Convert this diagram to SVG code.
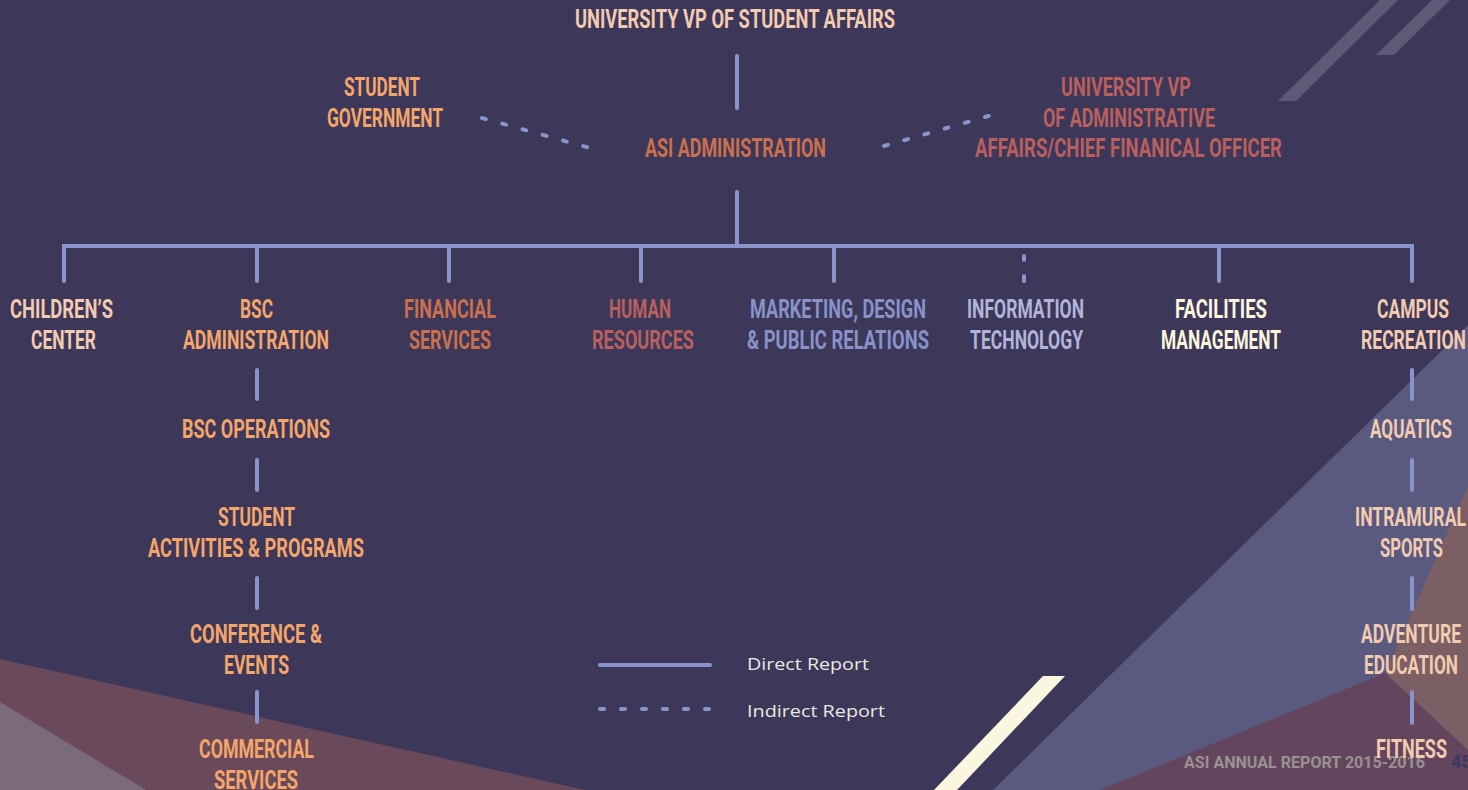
<svg xmlns="http://www.w3.org/2000/svg" width="1468" height="790" viewBox="0 0 1468 790">
<style>
.t{font-family:Roboto,"Liberation Sans",sans-serif;font-weight:700;font-size:25px;text-anchor:middle}
.peach{fill:#f2cbb0}.orange{fill:#f4a66a}.terra{fill:#c9704f}.rose{fill:#b9605f}.lav{fill:#8892c8}.lav2{fill:#b1b5d9}.cream{fill:#fbf6dd}
.c{fill:none;stroke:#8a94cc;stroke-width:4;stroke-linecap:round}
.d{stroke-dasharray:4 17}
.lg{font-family:"Open Sans","Noto Sans",sans-serif;font-size:16px;fill:#ece8e0}
</style>
<g id="background">
<rect width="1468" height="790" fill="#3d3759"/>
<polygon points="1380,0 1398,0 1296,101 1278,101" fill="#5e5977"/>
<polygon points="1432,0 1450,0 1394,55 1376,55" fill="#5e5977"/>
<polygon points="0,659 585,790 0,790" fill="#6a4a5a"/>
<polygon points="0,702 146,790 0,790" fill="#7b6a7c"/>
<polygon points="1468,325 1468,790 993,790" fill="#5a5a80"/>
<polygon points="1468,486 1385,673 1468,750" fill="#7b5f64"/>
<polygon points="1100,790 1385,673 1468,750 1468,790" fill="#63455e"/>
<polygon points="1043,676 1065,676 957,790 934,790" fill="#faf6e0"/>
<text x="1184" y="768" font-family="Roboto,'Liberation Sans',sans-serif" font-weight="700" font-size="17" fill="#9b9191" textLength="241" lengthAdjust="spacingAndGlyphs">ASI ANNUAL REPORT 2015-2016</text>
<text x="1451" y="768" font-family="Roboto,'Liberation Sans',sans-serif" font-weight="700" font-size="18" fill="#3a3865">45</text>
</g>
<g id="connectors">
<line class="c" x1="737" y1="56" x2="737" y2="108"/>
<line class="c d" x1="482" y1="118" x2="590" y2="148"/>
<line class="c d" x1="884" y1="146" x2="992" y2="115"/>
<line class="c" x1="737" y1="192" x2="737" y2="244"/>
<path class="c" d="M64 281V246H1412V281" stroke-linejoin="miter"/>
<line class="c" x1="257" y1="246" x2="257" y2="281"/>
<line class="c" x1="449" y1="246" x2="449" y2="281"/>
<line class="c" x1="641" y1="246" x2="641" y2="281"/>
<line class="c" x1="834" y1="246" x2="834" y2="281"/>
<line class="c" x1="1024" y1="256" x2="1024" y2="260"/>
<line class="c" x1="1024" y1="276" x2="1024" y2="281"/>
<line class="c" x1="1219" y1="246" x2="1219" y2="281"/>
<line class="c" x1="257" y1="370" x2="257" y2="399"/>
<line class="c" x1="257" y1="460" x2="257" y2="490"/>
<line class="c" x1="257" y1="578" x2="257" y2="608"/>
<line class="c" x1="257" y1="692" x2="257" y2="722"/>
<line class="c" x1="1412" y1="370" x2="1412" y2="399"/>
<line class="c" x1="1412" y1="460" x2="1412" y2="490"/>
<line class="c" x1="1412" y1="578" x2="1412" y2="609"/>
<line class="c" x1="1412" y1="692" x2="1412" y2="723"/>
</g>
<g id="n-vp-student-affairs"><text class="t peach" x="735" y="28" textLength="320" lengthAdjust="spacingAndGlyphs">UNIVERSITY VP OF STUDENT AFFAIRS</text></g>
<g id="n-student-government"><text class="t orange" x="382" y="96" textLength="76" lengthAdjust="spacingAndGlyphs">STUDENT</text><text class="t orange" x="385" y="127" textLength="116" lengthAdjust="spacingAndGlyphs">GOVERNMENT</text></g>
<g id="n-asi-admin"><text class="t terra" x="735.5" y="157" textLength="181" lengthAdjust="spacingAndGlyphs">ASI ADMINISTRATION</text></g>
<g id="n-vp-admin"><text class="t rose" x="1126" y="96" textLength="130" lengthAdjust="spacingAndGlyphs">UNIVERSITY VP</text><text class="t rose" x="1129" y="127" textLength="172" lengthAdjust="spacingAndGlyphs">OF ADMINISTRATIVE</text><text class="t rose" x="1128.5" y="157" textLength="307" lengthAdjust="spacingAndGlyphs">AFFAIRS/CHIEF FINANICAL OFFICER</text></g>
<g id="n-childrens-center"><text class="t peach" x="61.5" y="318" textLength="103" lengthAdjust="spacingAndGlyphs">CHILDREN’S</text><text class="t peach" x="63.5" y="349" textLength="65" lengthAdjust="spacingAndGlyphs">CENTER</text></g>
<g id="n-bsc-admin"><text class="t orange" x="256.5" y="318" textLength="33" lengthAdjust="spacingAndGlyphs">BSC</text><text class="t orange" x="256" y="349" textLength="146" lengthAdjust="spacingAndGlyphs">ADMINISTRATION</text></g>
<g id="n-financial"><text class="t terra" x="450" y="318" textLength="92" lengthAdjust="spacingAndGlyphs">FINANCIAL</text><text class="t terra" x="450" y="349" textLength="82" lengthAdjust="spacingAndGlyphs">SERVICES</text></g>
<g id="n-hr"><text class="t rose" x="640" y="318" textLength="62" lengthAdjust="spacingAndGlyphs">HUMAN</text><text class="t rose" x="643" y="349" textLength="102" lengthAdjust="spacingAndGlyphs">RESOURCES</text></g>
<g id="n-marketing"><text class="t lav" x="838" y="318" textLength="176" lengthAdjust="spacingAndGlyphs">MARKETING, DESIGN</text><text class="t lav" x="838" y="349" textLength="182" lengthAdjust="spacingAndGlyphs">&amp; PUBLIC RELATIONS</text></g>
<g id="n-it"><text class="t lav2" x="1025.5" y="318" textLength="117" lengthAdjust="spacingAndGlyphs">INFORMATION</text><text class="t lav2" x="1026.5" y="349" textLength="113" lengthAdjust="spacingAndGlyphs">TECHNOLOGY</text></g>
<g id="n-facilities"><text class="t cream" x="1221" y="318" textLength="92" lengthAdjust="spacingAndGlyphs">FACILITIES</text><text class="t cream" x="1221" y="349" textLength="120" lengthAdjust="spacingAndGlyphs">MANAGEMENT</text></g>
<g id="n-campus-rec"><text class="t peach" x="1413" y="318" textLength="72" lengthAdjust="spacingAndGlyphs">CAMPUS</text><text class="t peach" x="1413.5" y="349" textLength="105" lengthAdjust="spacingAndGlyphs">RECREATION</text></g>
<g id="n-bsc-operations"><text class="t orange" x="256" y="438" textLength="148" lengthAdjust="spacingAndGlyphs">BSC OPERATIONS</text></g>
<g id="n-student-activities"><text class="t orange" x="256.5" y="526" textLength="77" lengthAdjust="spacingAndGlyphs">STUDENT</text><text class="t orange" x="256" y="557" textLength="216" lengthAdjust="spacingAndGlyphs">ACTIVITIES &amp; PROGRAMS</text></g>
<g id="n-conference"><text class="t orange" x="256" y="643" textLength="132" lengthAdjust="spacingAndGlyphs">CONFERENCE &amp;</text><text class="t orange" x="256.5" y="674" textLength="65" lengthAdjust="spacingAndGlyphs">EVENTS</text></g>
<g id="n-commercial"><text class="t orange" x="256.5" y="758" textLength="115" lengthAdjust="spacingAndGlyphs">COMMERCIAL</text><text class="t orange" x="256" y="789" textLength="84" lengthAdjust="spacingAndGlyphs">SERVICES</text></g>
<g id="n-aquatics"><text class="t peach" x="1411" y="438" textLength="82" lengthAdjust="spacingAndGlyphs">AQUATICS</text></g>
<g id="n-intramural"><text class="t peach" x="1410.5" y="526" textLength="111" lengthAdjust="spacingAndGlyphs">INTRAMURAL</text><text class="t peach" x="1411.5" y="557" textLength="63" lengthAdjust="spacingAndGlyphs">SPORTS</text></g>
<g id="n-adventure"><text class="t peach" x="1411" y="643" textLength="100" lengthAdjust="spacingAndGlyphs">ADVENTURE</text><text class="t peach" x="1411" y="674" textLength="94" lengthAdjust="spacingAndGlyphs">EDUCATION</text></g>
<g id="n-fitness"><text class="t peach" x="1411.5" y="758" textLength="71" lengthAdjust="spacingAndGlyphs">FITNESS</text></g>
<g id="legend">
<line class="c" x1="600" y1="665" x2="710" y2="665"/>
<line class="c d" x1="600" y1="709" x2="712" y2="709"/>
<text class="lg" x="747" y="670" textLength="122" lengthAdjust="spacingAndGlyphs">Direct Report</text>
<text class="lg" x="747" y="717" textLength="138" lengthAdjust="spacingAndGlyphs">Indirect Report</text>
</g>
</svg>
